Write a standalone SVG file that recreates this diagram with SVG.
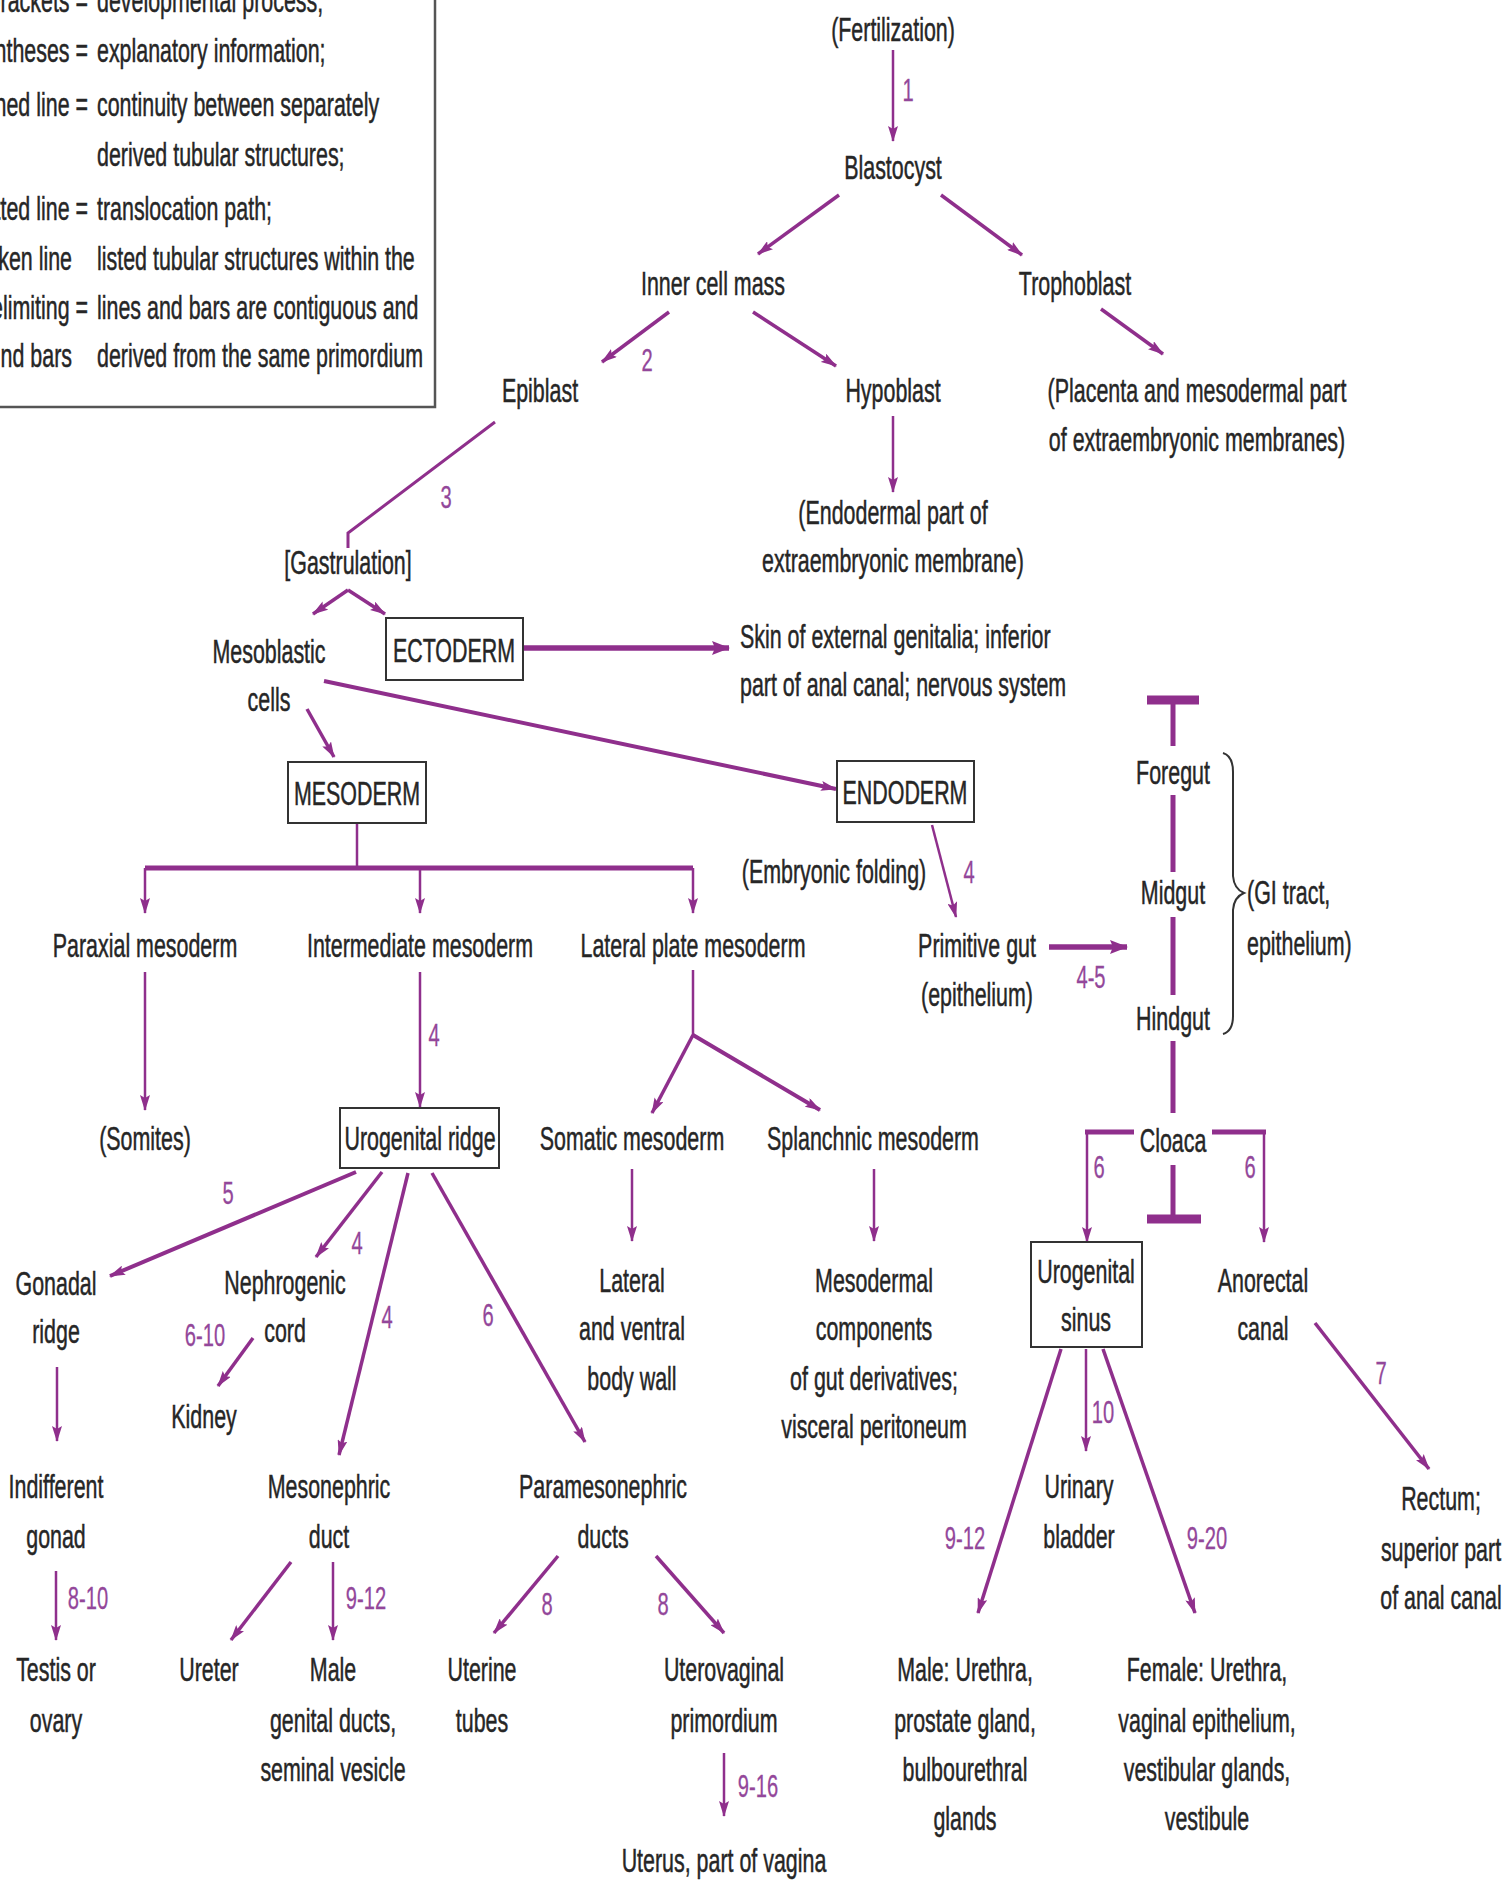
<svg xmlns="http://www.w3.org/2000/svg" width="1512" height="1880" viewBox="0 0 1512 1880">
<style>
.t{font-family:"Liberation Sans",Arial,sans-serif;font-size:34px;fill:#262626;stroke:#262626;stroke-width:0.5;text-anchor:middle}
.ts{font-family:"Liberation Sans",Arial,sans-serif;font-size:34px;fill:#262626;stroke:#262626;stroke-width:0.5;text-anchor:start}
.te{font-family:"Liberation Sans",Arial,sans-serif;font-size:34px;fill:#262626;stroke:#262626;stroke-width:0.5;text-anchor:end}
.n{font-family:"Liberation Sans",Arial,sans-serif;font-size:32px;fill:#93479a;stroke:#93479a;stroke-width:0.3;text-anchor:middle}
.box{fill:#fff;stroke:#333;stroke-width:2}
.c{fill:none;stroke:#8f2f8c;stroke-width:2.5}
.a{fill:none;stroke:#8f2f8c;stroke-width:2.5;marker-end:url(#ah)}
.a3{fill:none;stroke:#8f2f8c;stroke-width:3.5;marker-end:url(#ah)}
.ab{fill:none;stroke:#8f2f8c;stroke-width:5.5;marker-end:url(#ahL)}
.thick{fill:none;stroke:#8f2f8c;stroke-width:5}
.bar{fill:none;stroke:#8f2f8c;stroke-width:9}
</style>
<defs>
<marker id="ah" viewBox="0 0 16 10" refX="15" refY="5" markerWidth="16" markerHeight="10" markerUnits="userSpaceOnUse" orient="auto"><path d="M0,0 L16,5 L0,10 L3,5 Z" fill="#8f2f8c"/></marker>
<marker id="ahL" viewBox="0 0 18 14" refX="17" refY="7" markerWidth="18" markerHeight="14" markerUnits="userSpaceOnUse" orient="auto"><path d="M0,0 L18,7 L0,14 L3,7 Z" fill="#8f2f8c"/></marker>
</defs>
<rect width="1512" height="1880" fill="#fff"/>

<g id="legend">
<rect x="-6" y="-6" width="441" height="413" fill="#fff" stroke="#555" stroke-width="2.5"/>
<text class="te" transform="translate(88,12) scale(0.63,1)">brackets =</text>
<text class="ts" transform="translate(97,12) scale(0.63,1)">developmental process;</text>
<text class="te" transform="translate(88,62) scale(0.63,1)">ntheses =</text>
<text class="ts" transform="translate(97,62) scale(0.63,1)">explanatory information;</text>
<text class="te" transform="translate(88,116) scale(0.63,1)">hed line =</text>
<text class="ts" transform="translate(97,116) scale(0.63,1)">continuity between separately</text>
<text class="ts" transform="translate(97,166) scale(0.63,1)">derived tubular structures;</text>
<text class="te" transform="translate(88,220) scale(0.63,1)">tted line =</text>
<text class="ts" transform="translate(97,220) scale(0.63,1)">translocation path;</text>
<text class="te" transform="translate(72,270) scale(0.63,1)">ken line</text>
<text class="ts" transform="translate(97,270) scale(0.63,1)">listed tubular structures within the</text>
<text class="te" transform="translate(88,319) scale(0.63,1)">elimiting =</text>
<text class="ts" transform="translate(97,319) scale(0.63,1)">lines and bars are contiguous and</text>
<text class="te" transform="translate(72,367) scale(0.63,1)">nd bars</text>
<text class="ts" transform="translate(97,367) scale(0.63,1)">derived from the same primordium</text>
</g>

<g id="connectors">
<path class="a" d="M893,50 L893,141"/>
<path class="a3" d="M839,195 L758,254"/>
<path class="a3" d="M941,195 L1022,255"/>
<path class="a3" d="M669,312 L602,362"/>
<path class="a3" d="M753,312 L836,366"/>
<path class="a3" d="M1101,309 L1163,354"/>
<path class="a" d="M893,416 L893,492"/>
<path class="c" d="M495,422 L348,533 L348,548" style="stroke-width:3"/>
<path class="a3" d="M348,590 L313,614"/>
<path class="a3" d="M348,590 L385,614"/>
<path class="ab" d="M523,648 L729,648"/>
<path class="a3" d="M324,681 L836,789" style="stroke-width:4"/>
<path class="a3" d="M307,709 L334,757"/>
<path class="c" d="M357,823 L357,868"/>
<path class="thick" d="M145,868 L693,868"/>
<path class="a" d="M145,868 L145,913"/>
<path class="a" d="M420,868 L420,913"/>
<path class="a" d="M693,868 L693,913"/>
<path class="a" d="M145,972 L145,1110"/>
<path class="a" d="M420,972 L420,1107"/>
<path class="c" d="M693,970 L693,1035"/>
<path class="a3" d="M693,1035 L652,1113"/>
<path class="a3" d="M693,1035 L820,1110" style="stroke-width:4"/>
<path class="a" d="M932,825 L956,917"/>
<path class="ab" d="M1049,947 L1127,947"/>
<path class="bar" d="M1147,700 L1199,700"/>
<path class="thick" d="M1173,700 L1173,746"/>
<path class="thick" d="M1173,795 L1173,872"/>
<path class="thick" d="M1173,917 L1173,995"/>
<path class="thick" d="M1173,1041 L1173,1113"/>
<path class="thick" d="M1173,1165 L1173,1217"/>
<path class="bar" d="M1147,1219 L1201,1219"/>
<path class="c" d="M1134,1132 L1085,1132" style="stroke-width:5"/>
<path class="a" d="M1087,1132 L1087,1242"/>
<path class="c" d="M1212,1132 L1266,1132" style="stroke-width:5"/>
<path class="a" d="M1264,1132 L1264,1242"/>
<path d="M1223,753 Q1233,756 1233,772 L1233,876 Q1234,889 1244,893 Q1234,897 1233,910 L1233,1016 Q1233,1031 1223,1034" fill="none" stroke="#333" stroke-width="2"/>
<path class="a3" d="M356,1172 L110,1276" style="stroke-width:4"/>
<path class="a3" d="M382,1172 L316,1257"/>
<path class="a3" d="M408,1173 L339,1455"/>
<path class="a3" d="M432,1173 L585,1442"/>
<path class="a" d="M632,1169 L632,1241"/>
<path class="a" d="M874,1169 L874,1241"/>
<path class="a3" d="M1061,1349 L978,1613"/>
<path class="a" d="M1086,1349 L1086,1451"/>
<path class="a3" d="M1103,1349 L1195,1613"/>
<path class="a3" d="M1315,1323 L1429,1469"/>
<path class="a3" d="M253,1338 L218,1386"/>
<path class="a" d="M57,1367 L57,1441"/>
<path class="a" d="M56,1571 L56,1640"/>
<path class="a3" d="M291,1562 L231,1640"/>
<path class="a" d="M333,1562 L333,1640"/>
<path class="a3" d="M558,1556 L494,1633"/>
<path class="a3" d="M656,1556 L724,1633"/>
<path class="a" d="M724,1753 L724,1816"/>
</g>

<g id="labels">
<text class="n" transform="translate(908,101) scale(0.63,1)">1</text>
<text class="n" transform="translate(647,371) scale(0.63,1)">2</text>
<text class="n" transform="translate(446,508) scale(0.63,1)">3</text>
<text class="n" transform="translate(969,883) scale(0.63,1)">4</text>
<text class="n" transform="translate(1091,988) scale(0.63,1)">4-5</text>
<text class="n" transform="translate(434,1046) scale(0.63,1)">4</text>
<text class="n" transform="translate(1099,1178) scale(0.63,1)">6</text>
<text class="n" transform="translate(1250,1178) scale(0.63,1)">6</text>
<text class="n" transform="translate(228,1204) scale(0.63,1)">5</text>
<text class="n" transform="translate(357,1254) scale(0.63,1)">4</text>
<text class="n" transform="translate(387,1328) scale(0.63,1)">4</text>
<text class="n" transform="translate(488,1326) scale(0.63,1)">6</text>
<text class="n" transform="translate(205,1346) scale(0.63,1)">6-10</text>
<text class="n" transform="translate(1103,1423) scale(0.63,1)">10</text>
<text class="n" transform="translate(965,1549) scale(0.63,1)">9-12</text>
<text class="n" transform="translate(1207,1549) scale(0.63,1)">9-20</text>
<text class="n" transform="translate(1381,1384) scale(0.63,1)">7</text>
<text class="n" transform="translate(88,1609) scale(0.63,1)">8-10</text>
<text class="n" transform="translate(366,1609) scale(0.63,1)">9-12</text>
<text class="n" transform="translate(547,1615) scale(0.63,1)">8</text>
<text class="n" transform="translate(663,1615) scale(0.63,1)">8</text>
<text class="n" transform="translate(758,1797) scale(0.63,1)">9-16</text>
</g>

<g id="fertilization"><text class="t" transform="translate(893,41) scale(0.63,1)">(Fertilization)</text></g>
<g id="blastocyst"><text class="t" transform="translate(893,179) scale(0.63,1)">Blastocyst</text></g>
<g id="inner-cell-mass"><text class="t" transform="translate(713,295) scale(0.63,1)">Inner cell mass</text></g>
<g id="trophoblast"><text class="t" transform="translate(1075,295) scale(0.63,1)">Trophoblast</text></g>
<g id="epiblast"><text class="t" transform="translate(540,402) scale(0.63,1)">Epiblast</text></g>
<g id="hypoblast"><text class="t" transform="translate(893,402) scale(0.63,1)">Hypoblast</text></g>
<g id="placenta"><text class="t" transform="translate(1197,402) scale(0.63,1)"><tspan x="0" dy="0">(Placenta and mesodermal part</tspan><tspan x="0" dy="49">of extraembryonic membranes)</tspan></text></g>
<g id="endodermal-part"><text class="t" transform="translate(893,524) scale(0.63,1)"><tspan x="0" dy="0">(Endodermal part of</tspan><tspan x="0" dy="48">extraembryonic membrane)</tspan></text></g>
<g id="gastrulation"><text class="t" transform="translate(348,574) scale(0.63,1)">[Gastrulation]</text></g>
<g id="mesoblastic"><text class="t" transform="translate(269,663) scale(0.63,1)"><tspan x="0" dy="0">Mesoblastic</tspan><tspan x="0" dy="48">cells</tspan></text></g>
<g id="ectoderm"><rect class="box" x="386" y="618" width="137" height="62"/><text class="t" transform="translate(454,662) scale(0.63,1)">ECTODERM</text></g>
<g id="skin"><text class="ts" transform="translate(740,648) scale(0.63,1)"><tspan x="0" dy="0">Skin of external genitalia; inferior</tspan><tspan x="0" dy="48">part of anal canal; nervous system</tspan></text></g>
<g id="mesoderm"><rect class="box" x="288" y="762" width="138" height="61"/><text class="t" transform="translate(357,805) scale(0.63,1)">MESODERM</text></g>
<g id="endoderm"><rect class="box" x="837" y="761" width="137" height="61"/><text class="t" transform="translate(905,804) scale(0.63,1)">ENDODERM</text></g>
<g id="embryonic-folding"><text class="t" transform="translate(834,883) scale(0.63,1)">(Embryonic folding)</text></g>
<g id="paraxial"><text class="t" transform="translate(145,957) scale(0.63,1)">Paraxial mesoderm</text></g>
<g id="intermediate"><text class="t" transform="translate(420,957) scale(0.63,1)">Intermediate mesoderm</text></g>
<g id="lateral-plate"><text class="t" transform="translate(693,957) scale(0.63,1)">Lateral plate mesoderm</text></g>
<g id="primitive-gut"><text class="t" transform="translate(977,957) scale(0.63,1)"><tspan x="0" dy="0">Primitive gut</tspan><tspan x="0" dy="49">(epithelium)</tspan></text></g>
<g id="foregut"><text class="t" transform="translate(1173,784) scale(0.63,1)">Foregut</text></g>
<g id="midgut"><text class="t" transform="translate(1173,904) scale(0.63,1)">Midgut</text></g>
<g id="hindgut"><text class="t" transform="translate(1173,1030) scale(0.63,1)">Hindgut</text></g>
<g id="gi-tract"><text class="ts" transform="translate(1247,904) scale(0.63,1)"><tspan x="0" dy="0">(GI tract,</tspan><tspan x="0" dy="51">epithelium)</tspan></text></g>
<g id="cloaca"><text class="t" transform="translate(1173,1152) scale(0.63,1)">Cloaca</text></g>
<g id="somites"><text class="t" transform="translate(145,1150) scale(0.63,1)">(Somites)</text></g>
<g id="urogenital-ridge"><rect class="box" x="340" y="1108" width="159" height="60"/><text class="t" transform="translate(420,1150) scale(0.63,1)">Urogenital ridge</text></g>
<g id="somatic"><text class="t" transform="translate(632,1150) scale(0.63,1)">Somatic mesoderm</text></g>
<g id="splanchnic"><text class="t" transform="translate(873,1150) scale(0.63,1)">Splanchnic mesoderm</text></g>
<g id="gonadal-ridge"><text class="t" transform="translate(56,1295) scale(0.63,1)"><tspan x="0" dy="0">Gonadal</tspan><tspan x="0" dy="48">ridge</tspan></text></g>
<g id="nephrogenic-cord"><text class="t" transform="translate(285,1294) scale(0.63,1)"><tspan x="0" dy="0">Nephrogenic</tspan><tspan x="0" dy="48">cord</tspan></text></g>
<g id="kidney"><text class="t" transform="translate(204,1428) scale(0.63,1)">Kidney</text></g>
<g id="lateral-body-wall"><text class="t" transform="translate(632,1292) scale(0.63,1)"><tspan x="0" dy="0">Lateral</tspan><tspan x="0" dy="48">and ventral</tspan><tspan x="0" dy="50">body wall</tspan></text></g>
<g id="mesodermal-components"><text class="t" transform="translate(874,1292) scale(0.63,1)"><tspan x="0" dy="0">Mesodermal</tspan><tspan x="0" dy="48">components</tspan><tspan x="0" dy="50">of gut derivatives;</tspan><tspan x="0" dy="48">visceral peritoneum</tspan></text></g>
<g id="urogenital-sinus"><rect class="box" x="1031" y="1242" width="111" height="105"/><text class="t" transform="translate(1086,1283) scale(0.63,1)"><tspan x="0" dy="0">Urogenital</tspan><tspan x="0" dy="48">sinus</tspan></text></g>
<g id="anorectal-canal"><text class="t" transform="translate(1263,1292) scale(0.63,1)"><tspan x="0" dy="0">Anorectal</tspan><tspan x="0" dy="48">canal</tspan></text></g>
<g id="indifferent-gonad"><text class="t" transform="translate(56,1498) scale(0.63,1)"><tspan x="0" dy="0">Indifferent</tspan><tspan x="0" dy="50">gonad</tspan></text></g>
<g id="mesonephric-duct"><text class="t" transform="translate(329,1498) scale(0.63,1)"><tspan x="0" dy="0">Mesonephric</tspan><tspan x="0" dy="50">duct</tspan></text></g>
<g id="paramesonephric-ducts"><text class="t" transform="translate(603,1498) scale(0.63,1)"><tspan x="0" dy="0">Paramesonephric</tspan><tspan x="0" dy="50">ducts</tspan></text></g>
<g id="urinary-bladder"><text class="t" transform="translate(1079,1498) scale(0.63,1)"><tspan x="0" dy="0">Urinary</tspan><tspan x="0" dy="50">bladder</tspan></text></g>
<g id="rectum"><text class="t" transform="translate(1441,1510) scale(0.63,1)"><tspan x="0" dy="0">Rectum;</tspan><tspan x="0" dy="51">superior part</tspan><tspan x="0" dy="48">of anal canal</tspan></text></g>
<g id="testis-ovary"><text class="t" transform="translate(56,1681) scale(0.63,1)"><tspan x="0" dy="0">Testis or</tspan><tspan x="0" dy="51">ovary</tspan></text></g>
<g id="ureter"><text class="t" transform="translate(209,1681) scale(0.63,1)">Ureter</text></g>
<g id="male-genital-ducts"><text class="t" transform="translate(333,1681) scale(0.63,1)"><tspan x="0" dy="0">Male</tspan><tspan x="0" dy="51">genital ducts,</tspan><tspan x="0" dy="49">seminal vesicle</tspan></text></g>
<g id="uterine-tubes"><text class="t" transform="translate(482,1681) scale(0.63,1)"><tspan x="0" dy="0">Uterine</tspan><tspan x="0" dy="51">tubes</tspan></text></g>
<g id="uterovaginal"><text class="t" transform="translate(724,1681) scale(0.63,1)"><tspan x="0" dy="0">Uterovaginal</tspan><tspan x="0" dy="51">primordium</tspan></text></g>
<g id="uterus"><text class="t" transform="translate(724,1872) scale(0.63,1)">Uterus, part of vagina</text></g>
<g id="male-urethra"><text class="t" transform="translate(965,1681) scale(0.63,1)"><tspan x="0" dy="0">Male: Urethra,</tspan><tspan x="0" dy="51">prostate gland,</tspan><tspan x="0" dy="49">bulbourethral</tspan><tspan x="0" dy="49">glands</tspan></text></g>
<g id="female-urethra"><text class="t" transform="translate(1207,1681) scale(0.63,1)"><tspan x="0" dy="0">Female: Urethra,</tspan><tspan x="0" dy="51">vaginal epithelium,</tspan><tspan x="0" dy="49">vestibular glands,</tspan><tspan x="0" dy="49">vestibule</tspan></text></g>
</svg>
